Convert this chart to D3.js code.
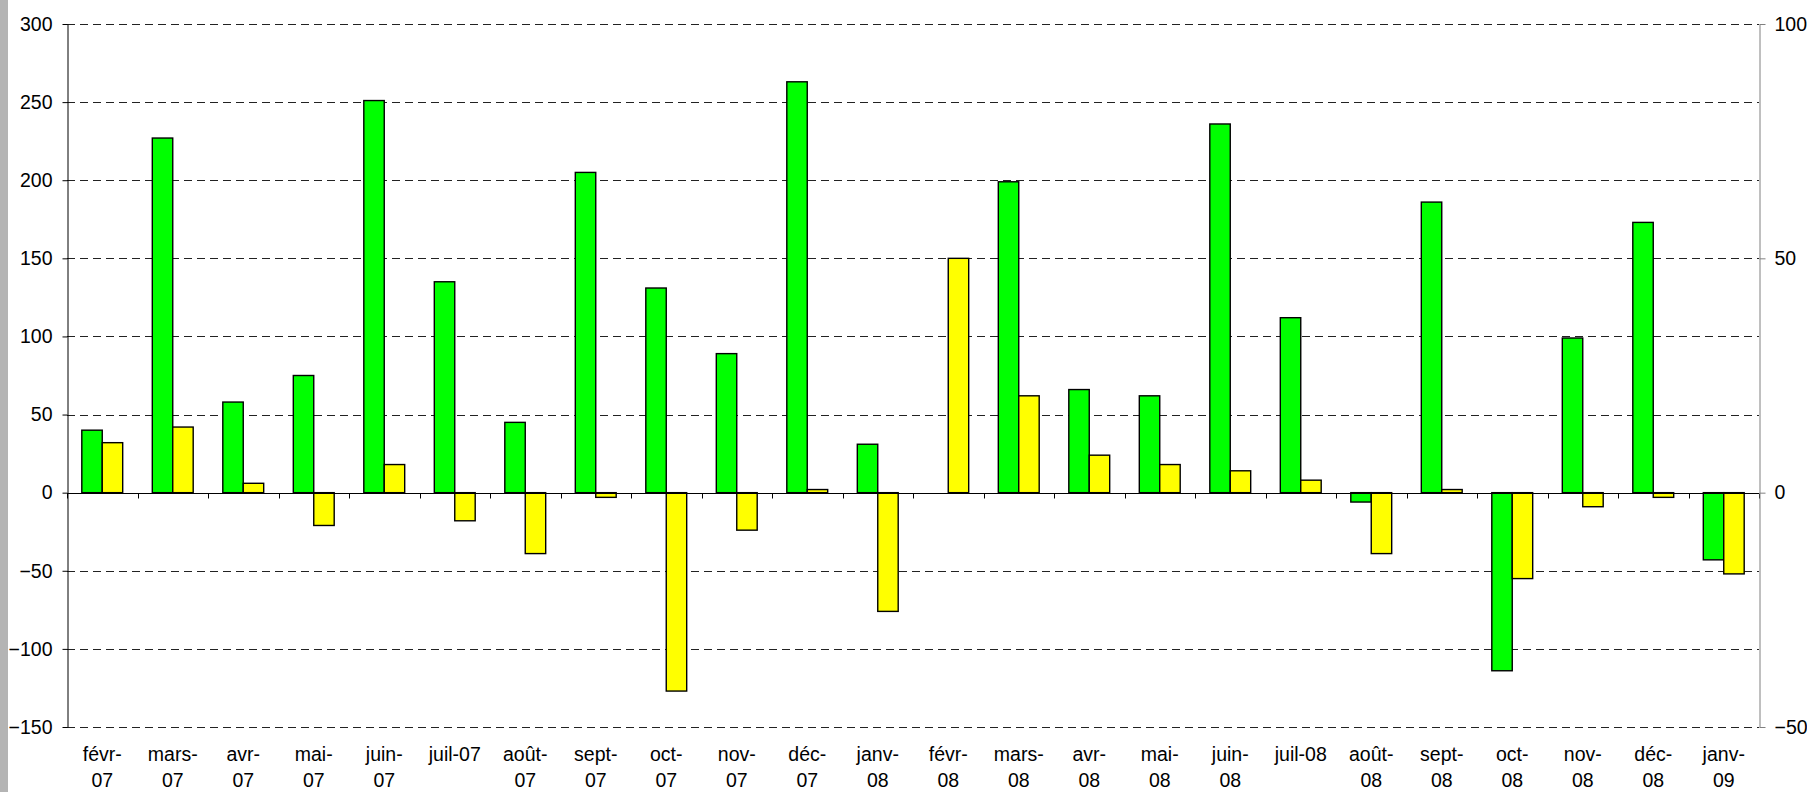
<!DOCTYPE html>
<html>
<head>
<meta charset="utf-8">
<script src="https://cdn.jsdelivr.net/npm/d3@7"></script>
<style>
  body { margin: 0; background: #fff; }
  svg { display: block; }
  text { font-family: "Liberation Sans", Arial, sans-serif; font-size: 19.5px; fill: #000; }
</style>
</head>
<body>
<div id="chart"></div>
<script>
var categories = ["févr-07", "mars-07", "avr-07", "mai-07", "juin-07", "juil-07", "août-07", "sept-07",
    "oct-07", "nov-07", "déc-07", "janv-08", "févr-08", "mars-08", "avr-08", "mai-08", "juin-08",
    "juil-08", "août-08", "sept-08", "oct-08", "nov-08", "déc-08", "janv-09"];

// how excel wrapped the category labels
var tickLabels = [["févr-", "07"], ["mars-", "07"], ["avr-", "07"], ["mai-", "07"], ["juin-", "07"],
    ["juil-07"], ["août-", "07"], ["sept-", "07"], ["oct-", "07"], ["nov-", "07"], ["déc-", "07"],
    ["janv-", "08"], ["févr-", "08"], ["mars-", "08"], ["avr-", "08"], ["mai-", "08"], ["juin-", "08"],
    ["juil-08"], ["août-", "08"], ["sept-", "08"], ["oct-", "08"], ["nov-", "08"], ["déc-", "08"],
    ["janv-", "09"]];

var greenValues = [40, 227, 58, 75, 251, 135, 45, 205, 131, 89, 263, 31, null, 199, 66, 62, 236, 112,
    -6, 186, -114, 99, 173, -43];
var yellowValues = [32, 42, 6, -21, 18, -18, -39, -3, -127, -24, 2, -76, 150, 62, 24, 18, 14, 8,
    -39, 2, -55, -9, -3, -52];

var leftTicks = [-150, -100, -50, 0, 50, 100, 150, 200, 250, 300];
var rightTicks = [-50, 0, 50, 100];

var series = ["green", "yellow"];
var colors = {green: "#00ff00", yellow: "#ffff00"};

var width = 1807, height = 792;
var plot = {left: 67, right: 1759, top: 24, bottom: 727};

var svg = d3.select("#chart").append("svg")
    .attr("width", width)
    .attr("height", height);

// grey strip on the left edge of the picture
svg.append("rect")
    .attr("x", 0).attr("y", 0)
    .attr("width", 8).attr("height", height)
    .attr("fill", "#b4b4b4");

var x0 = d3.scaleBand()
    .domain(categories)
    .range([plot.left, plot.right])
    .padding(0);

var barW = x0.bandwidth() * 0.29;
var x1 = d3.scaleBand()
    .domain(series)
    .range([0, barW * 2]);
var groupOffset = (x0.bandwidth() - barW * 2) / 2;

var y = d3.scaleLinear()
    .domain([-150, 300])
    .range([plot.bottom, plot.top]);
var y2 = d3.scaleLinear()
    .domain([-50, 100])
    .range([plot.bottom, plot.top]);

// dashed grid
svg.append("g")
    .selectAll("line")
    .data(leftTicks.filter(function(d) { return d !== 0; }))
    .enter().append("line")
    .attr("x1", plot.left)
    .attr("x2", plot.right)
    .attr("y1", function(d) { return Math.round(y(d)) + 0.5; })
    .attr("y2", function(d) { return Math.round(y(d)) + 0.5; })
    .attr("stroke", "#222")
    .attr("stroke-width", 1)
    .attr("stroke-dasharray", "8,5");

// bars
var rows = categories.map(function(c, i) {
    return {cat: c, green: greenValues[i], yellow: yellowValues[i]};
});

var groups = svg.append("g")
    .selectAll("g")
    .data(rows)
    .enter().append("g")
    .attr("transform", function(d) { return "translate(" + (x0(d.cat) + groupOffset) + ",0)"; });

groups.selectAll("rect")
    .data(function(d) {
        return series.filter(function(s) { return d[s] !== null; })
            .map(function(s) { return {key: s, value: d[s]}; });
    })
    .enter().append("rect")
    .attr("x", function(d) { return x1(d.key); })
    .attr("width", x1.bandwidth())
    .attr("y", function(d) { return y(Math.max(0, d.value)); })
    .attr("height", function(d) { return Math.abs(y(d.value) - y(0)); })
    .attr("fill", function(d) { return colors[d.key]; })
    .attr("stroke", "#000")
    .attr("stroke-width", 1.4);

// zero line with category ticks
var zeroY = Math.round(y(0)) + 0.5;
svg.append("line")
    .attr("x1", plot.left).attr("x2", plot.right)
    .attr("y1", zeroY).attr("y2", zeroY)
    .attr("stroke", "#000");

var bounds = categories.map(function(c) { return x0(c); }).concat([plot.right]);
svg.append("g")
    .selectAll("line")
    .data(bounds)
    .enter().append("line")
    .attr("x1", function(d) { return Math.round(d) + 0.5; })
    .attr("x2", function(d) { return Math.round(d) + 0.5; })
    .attr("y1", zeroY)
    .attr("y2", zeroY + 5)
    .attr("stroke", "#000");

// left axis
var leftAxis = svg.append("g")
    .attr("transform", "translate(" + (plot.left + 0.5) + ",0)")
    .call(d3.axisLeft(y).tickValues(leftTicks).tickSize(5).tickPadding(10).tickSizeOuter(0));
leftAxis.select(".domain").attr("stroke", "#000");
leftAxis.selectAll("line").attr("stroke", "#000");
leftAxis.selectAll("text").attr("font-size", null).attr("font-family", null);

// right axis
var rightAxis = svg.append("g")
    .attr("transform", "translate(" + (plot.right + 0.5) + ",0)")
    .call(d3.axisRight(y2).tickValues(rightTicks).tickSize(6).tickPadding(9).tickSizeOuter(0));
rightAxis.select(".domain").attr("stroke", "#808080");
rightAxis.selectAll("line").attr("stroke", "#808080");
rightAxis.selectAll("text").attr("font-size", null).attr("font-family", null);

// category labels at the bottom
var labels = svg.append("g")
    .selectAll("text")
    .data(categories)
    .enter().append("text")
    .attr("text-anchor", "middle")
    .attr("x", function(d) { return x0(d) + x0.bandwidth() / 2; })
    .attr("y", 761);

labels.selectAll("tspan")
    .data(function(d, i) { return tickLabels[i]; })
    .enter().append("tspan")
    .attr("x", function() { return d3.select(this.parentNode).attr("x"); })
    .attr("dy", function(d, i) { return i === 0 ? 0 : 26; })
    .text(function(d) { return d; });
</script>
</body>
</html>
